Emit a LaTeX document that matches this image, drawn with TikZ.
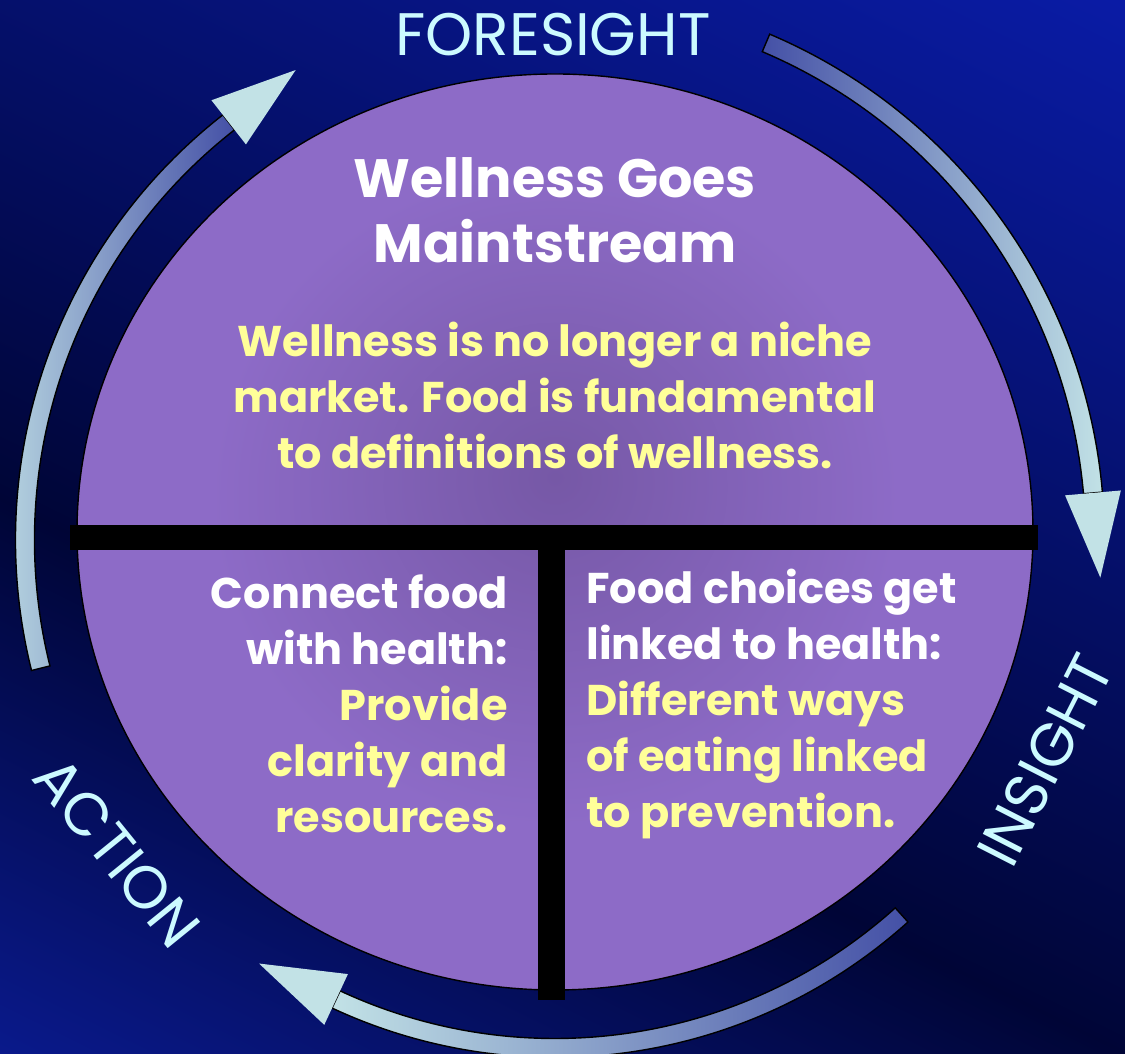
\documentclass[tikz,border=0pt]{standalone}
\usepackage{fontspec}
\setmainfont{Poppins}
\usepackage{xcolor}
\definecolor{bgtop}{HTML}{0A1CA8}
\definecolor{bgdark}{HTML}{000536}
\definecolor{bglow}{HTML}{0A1A8E}
\definecolor{disc}{HTML}{8D6BC7}
\definecolor{discdeep}{HTML}{7658A6}
\definecolor{arrowtone}{HTML}{C2E2E6}
\definecolor{arrowdeep}{HTML}{4450A6}
\definecolor{paleyellow}{HTML}{FFFF99}
\definecolor{palecyan}{HTML}{CCFAFF}
\pgfdeclareradialshading{discshade}{\pgfpoint{0bp}{3bp}}{color(0bp)=(discdeep); color(18bp)=(disc); color(50bp)=(disc)}
\newcommand{\yl}[1]{\textcolor{paleyellow}{#1}}
\newcommand{\cyclearrow}[6] {
    \begin{scope}[shift={(#1,#2)}]
        \shadedraw[#6,draw=black,line width=0.7pt]
            ({#4}:{#3+9.5}) arc[start angle=#4,end angle=#5,radius=#3+9.5]
            -- ({#5}:{#3-9.5}) arc[start angle=#5,end angle=#4,radius=#3-9.5] -- cycle;
        \fill[arrowtone,rotate=#5] (#3-28,0) -- (#3+28,0) -- (#3,-85) -- cycle;
    \end{scope}
}
\tikzset{
    headline/.style={text=white,align=center,inner sep=0pt,
        font=\fontsize{27}{32.5}\selectfont\bfseries},
    bodytext/.style={text=white,inner sep=0pt,
        font=\fontsize{21.5}{28}\selectfont\bfseries},
    ringlabel/.style={text=palecyan,inner sep=0pt,
        font=\fontsize{30}{32}\selectfont}
}
\begin{document}
\begin{tikzpicture}[x=0.5pt,y=0.5pt]
    \useasboundingbox (0,0) rectangle (1125,1054);
    \begin{scope}
        \clip (0,0) rectangle (1125,1054);
        \fill[bgdark] (0,0) rectangle (1125,1054);
        \shade[transform canvas={rotate around={-26.2:(0,554)}},top color=bgtop,bottom color=bgdark]
            (-800,548) rectangle (2200,1520);
        \shade[transform canvas={rotate around={-26.2:(0,554)}},top color=bgdark,bottom color=bglow]
            (-800,40) rectangle (2200,556);
    \end{scope}
    \shade[shading=discshade] (555,522) ellipse [x radius=478,y radius=458];
    \draw[black,line width=0.7pt] (555,522) ellipse [x radius=478,y radius=458];
    \fill[black] (70,504) rectangle (1038,529);
    \fill[black] (538,54) rectangle (565,504);
    \cyclearrow{555}{514}{530}{194}{128}{left color=arrowtone,middle color=arrowtone!75!arrowdeep,right color=arrowdeep}
    \cyclearrow{555}{514}{540}{67}{5}{left color=arrowdeep,right color=arrowtone}
    \cyclearrow{555}{524}{518}{-48}{-115}{left color=arrowtone,middle color=arrowtone!90!arrowdeep,right color=arrowdeep}
    \node[ringlabel] (foresight) at (553,1019) {FORESIGHT};
    \node[ringlabel,rotate=63] (insight) at (1045,294) {INSIGHT};
    \node[ringlabel,rotate=-51] (action) at (117,202) {ACTION};
    \node[headline] (title) at (555,844) {Wellness Goes\\Maintstream};
    \node[bodytext,text=paleyellow,align=center] (trend) at (555,659)
        {Wellness is no longer a niche\\market. Food is fundamental\\to definitions of wellness.};
    \node[bodytext,align=right,anchor=east] (actiontext) at (508,350)
        {Connect food\\with health:\\\yl{Provide}\\\yl{clarity and}\\\yl{resources.}};
    \node[bodytext,align=left,anchor=west] (insighttext) at (586,350)
        {Food choices get\\linked to health:\\\yl{Different ways}\\\yl{of eating linked}\\\yl{to prevention.}};
\end{tikzpicture}
\end{document}
